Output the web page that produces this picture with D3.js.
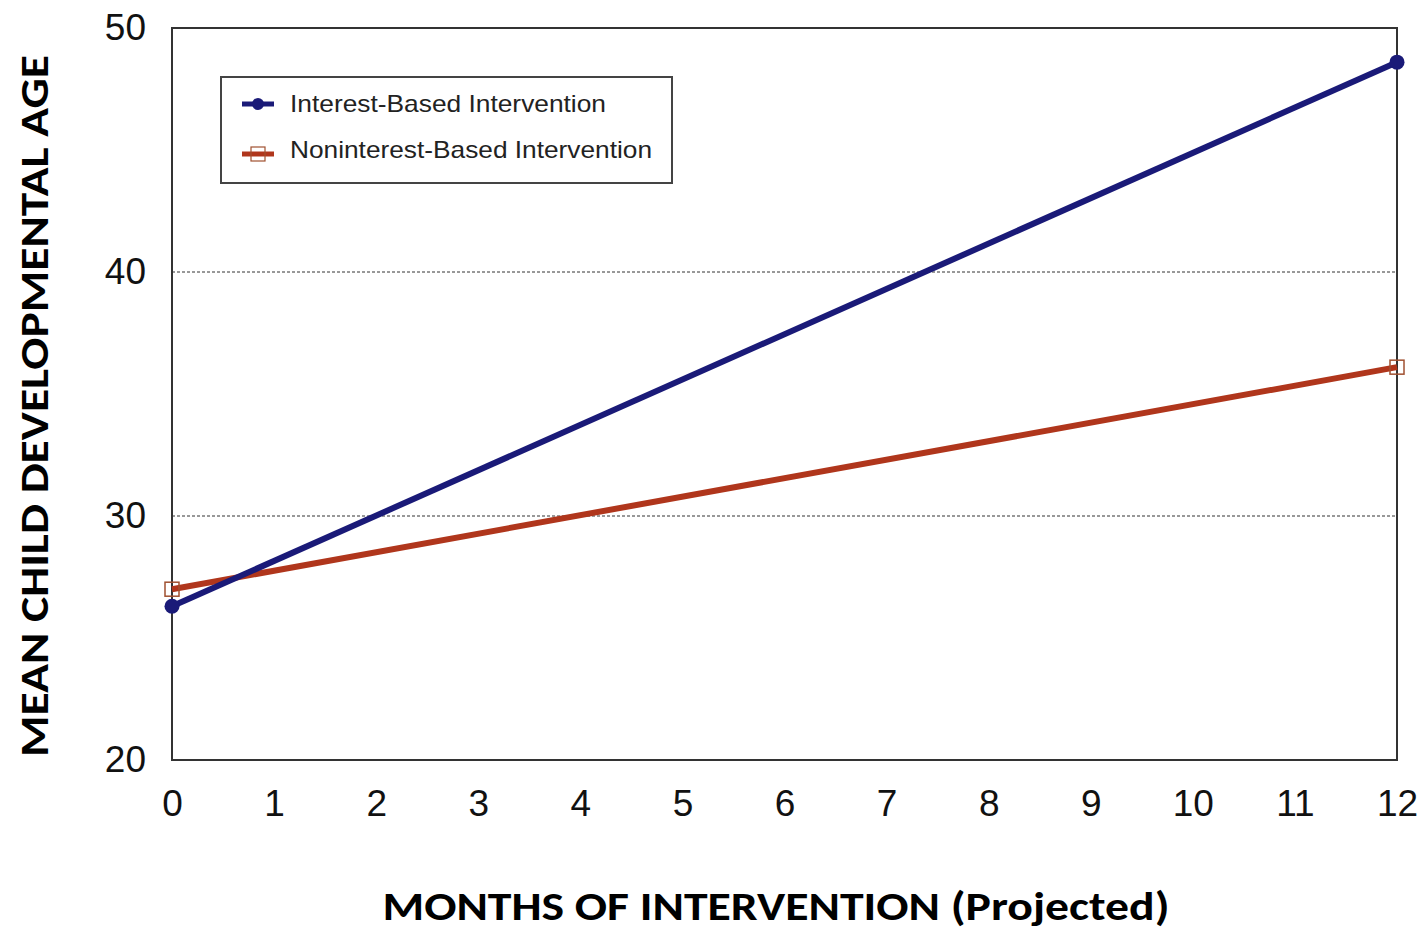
<!DOCTYPE html>
<html><head><meta charset="utf-8">
<script src="https://cdn.jsdelivr.net/npm/d3@7"></script>
<style>body{margin:0;background:#fff;} svg{display:block;}</style>
</head><body>
<script>
const months = [0, 12];
const xTicks = [0,1,2,3,4,5,6,7,8,9,10,11,12];
const yTicks = [20,30,40,50];
const gridValues = [30,40];
const interestBased = [26.3, 48.6];
const noninterestBased = [27.0, 36.1];
const seriesNames = ["Interest-Based Intervention", "Noninterest-Based Intervention"];
const xTitle = "MONTHS OF INTERVENTION (Projected)";
const yTitle = "MEAN CHILD DEVELOPMENTAL AGE";

const W = 1425, H = 932;
const L = 172, R = 1397, T = 28, B = 760;
const svg = d3.select("body").append("svg").attr("width", W).attr("height", H);
const x = d3.scaleLinear().domain([0,12]).range([L,R]);
const y = d3.scaleLinear().domain([20,50]).range([B,T]);

// grid
svg.append("g").selectAll("line").data(gridValues).join("line")
  .attr("x1", L).attr("x2", R).attr("y1", d=>y(d)).attr("y2", d=>y(d))
  .attr("stroke", "#333").attr("stroke-width", 1).attr("stroke-dasharray", "3,2");

// axes (labels only)
const font = "Liberation Sans, Arial, sans-serif";
const yAxis = svg.append("g").attr("transform", `translate(${L},0)`)
  .call(d3.axisLeft(y).tickValues(yTicks).tickSize(0).tickPadding(26));
yAxis.select(".domain").remove();
yAxis.selectAll("text").attr("font-family", font).attr("font-size", 37).attr("fill", "#111");
const xAxis = svg.append("g").attr("transform", `translate(0,${B})`)
  .call(d3.axisBottom(x).tickValues(xTicks).tickSize(0).tickPadding(30));
xAxis.select(".domain").remove();
xAxis.selectAll("text").attr("font-family", font).attr("font-size", 37).attr("fill", "#111");

// frame
svg.append("rect").attr("x", L).attr("y", T).attr("width", R-L).attr("height", B-T)
  .attr("fill", "none").attr("stroke", "#333").attr("stroke-width", 2);

const blue = "#1a1a78", red = "#b0361c";
const line = d3.line().x((d,i)=>x(months[i])).y(d=>y(d));
svg.append("path").datum(noninterestBased).attr("d", line)
  .attr("fill","none").attr("stroke", red).attr("stroke-width", 6);
svg.append("path").datum(interestBased).attr("d", line)
  .attr("fill","none").attr("stroke", blue).attr("stroke-width", 6);
svg.append("g").selectAll("rect").data(noninterestBased).join("rect")
  .attr("x", (d,i)=>x(months[i])-7).attr("y", d=>y(d)-7).attr("width",14).attr("height",14)
  .attr("fill","none").attr("stroke","#a05030").attr("stroke-width",1.5);
svg.append("g").selectAll("circle").data(interestBased).join("circle")
  .attr("cx", (d,i)=>x(months[i])).attr("cy", d=>y(d)).attr("r", 7.5).attr("fill", blue);

// legend
const lg = svg.append("g");
lg.append("rect").attr("x",221).attr("y",77).attr("width",451).attr("height",106)
  .attr("fill","#fff").attr("stroke","#444").attr("stroke-width",2);
const ly = [104, 150];
lg.append("line").attr("x1",242).attr("x2",274).attr("y1",ly[0]).attr("y2",ly[0]).attr("stroke",blue).attr("stroke-width",5);
lg.append("circle").attr("cx",258).attr("cy",ly[0]).attr("r",6).attr("fill",blue);
lg.append("line").attr("x1",242).attr("x2",274).attr("y1",ly[1]+4).attr("y2",ly[1]+4).attr("stroke",red).attr("stroke-width",5);
lg.append("rect").attr("x",251).attr("y",ly[1]-3).attr("width",14).attr("height",14).attr("fill","none").attr("stroke","#a05030").attr("stroke-width",1.2);
const legLen = [316, 362];
lg.selectAll("text").data(seriesNames).join("text")
  .attr("x",290).attr("y",(d,i)=>ly[i]).attr("dy","0.35em")
  .attr("font-family",font).attr("font-size",24).attr("fill","#222")
  .attr("textLength",(d,i)=>legLen[i]).attr("lengthAdjust","spacingAndGlyphs").text(d=>d);

// titles
svg.append("text").attr("x", 776).attr("y", 906).attr("dy","0.35em").attr("text-anchor","middle")
  .attr("font-family","Carlito, Lato, sans-serif").attr("font-weight","bold").attr("font-size",40)
  .attr("fill","#000").attr("textLength", 787).attr("lengthAdjust","spacingAndGlyphs").text(xTitle);
svg.append("text").attr("transform","translate(34,406) rotate(-90)").attr("dy","0.35em").attr("text-anchor","middle")
  .attr("font-family","Carlito, Lato, sans-serif").attr("font-weight","bold").attr("font-size",40)
  .attr("fill","#000").attr("textLength", 702).attr("lengthAdjust","spacingAndGlyphs").text(yTitle);
</script>
</body></html>
